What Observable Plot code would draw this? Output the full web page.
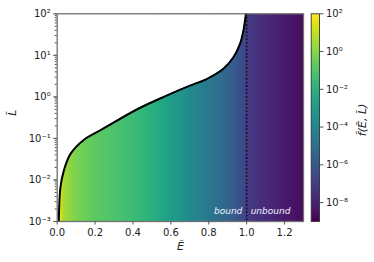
<!DOCTYPE html>
<html><head><meta charset="utf-8">
<script src="https://cdn.jsdelivr.net/npm/d3@7"></script>
<script src="https://cdn.jsdelivr.net/npm/@observablehq/plot@0.6"></script>
<style>
body{margin:0;background:white;}
#chart{position:relative;width:374px;height:262px;}
#chart svg{position:absolute;left:0;top:0;}
</style></head><body><div id="chart"></div>
<script>
// distribution function log10 f~ vs E~
const fieldE    = [0, 0.01, 0.03, 0.05, 0.1, 0.2, 0.3, 0.4, 0.5, 0.6, 0.65, 0.7, 0.8, 0.9, 0.95, 0.99, 1.0, 1.05, 1.1, 1.2, 1.3];
const fieldLogF = [2.0, 1.7, 0.7, 0.3, -0.2, -0.75, -1.1, -1.5, -2.0, -2.85, -3.3, -3.8, -4.6, -5.5, -6.1, -6.7, -7.1, -7.4, -7.7, -8.2, -8.7];
// boundary curve L~max(E~)
const curveE = [0.0085, 0.017, 0.035, 0.070, 0.14, 0.229, 0.43, 0.577, 0.70, 0.789, 0.877, 0.93, 0.965, 0.983, 0.996];
const curveL = [0.001, 0.0066, 0.0168, 0.0424, 0.092, 0.158, 0.525, 1.07, 1.86, 2.69, 4.73, 9.0, 18.9, 39.8, 100];
const boundaryE = [1.0];
const xTicks = [0, 0.2, 0.4, 0.6, 0.8, 1.0, 1.2];
const yTicks = [1e-3, 1e-2, 1e-1, 1e0, 1e1, 1e2];
const cbTickExp = [2, 0, -2, -4, -6, -8];
const xDomain = [0, 1.3];
const yDomain = [1e-3, 1e2];
const colorDomain = [-9, 2];
const labelBound = [{E: 0.977, L: 0.0018, text: "bound"}];
const labelUnbound = [{E: 1.021, L: 0.0018, text: "unbound"}];

const supMap = {"-":"⁻","0":"⁰","1":"¹","2":"²","3":"³","4":"⁴","5":"⁵","6":"⁶","7":"⁷","8":"⁸","9":"⁹"};
const supExp = k => "10" + String(k).split("").map(c => supMap[c]).join("");
const pow10 = v => supExp(Math.round(Math.log10(v)));

const field = fieldE.flatMap((E, i) => [{E, L: yDomain[0], v: fieldLogF[i]}, {E, L: yDomain[1], v: fieldLogF[i]}]);
const curve = curveE.map((E, i) => ({E, L: curveL[i]}));
const mask = [{E: 0, L: yDomain[0]}, ...curve];

const style = {fontFamily: "DejaVu Sans", fontSize: "10px", color: "#222", background: "transparent"};

const main = Plot.plot({
  width: 374, height: 262,
  marginLeft: 56.7, marginRight: 71, marginTop: 13.3, marginBottom: 41,
  style,
  x: {domain: xDomain},
  y: {type: "log", domain: yDomain},
  color: {type: "linear", domain: colorDomain, scheme: "viridis"},
  marks: [
    Plot.raster(field, {x: "E", y: "L", fill: "v", interpolate: "barycentric", x1: xDomain[0], x2: xDomain[1], y1: yDomain[0], y2: yDomain[1]}),
    Plot.areaY(mask, {x: "E", y1: "L", y2: () => yDomain[1], fill: "white", curve: "catmull-rom", clip: true}),
    Plot.line(curve, {x: "E", y: "L", stroke: "black", strokeWidth: 2, curve: "catmull-rom", clip: true}),
    Plot.ruleX(boundaryE, {stroke: "#111", strokeWidth: 1.6, strokeDasharray: "1.6,2"}),
    Plot.text(labelBound, {x: "E", y: "L", text: "text", textAnchor: "end", fill: "#f2f2fa", fontStyle: "italic", fontSize: 9}),
    Plot.text(labelUnbound, {x: "E", y: "L", text: "text", textAnchor: "start", fill: "#f2f2fa", fontStyle: "italic", fontSize: 9}),
    Plot.frame({stroke: "#707070", strokeWidth: 1.3}),
    Plot.axisX({ticks: xTicks, tickFormat: d3.format(".1f"), tickSize: 3.5, tickPadding: 4, label: null, stroke: "#555"}),
    Plot.axisY({ticks: yTicks, tickFormat: pow10, tickSize: 3.5, tickPadding: 3, label: null, stroke: "#555"}),
    Plot.axisY({ticks: 40, tickFormat: () => "", tickSize: 2, label: null, stroke: "#555"}),
    Plot.text(["Ẽ"], {text: d => d, frameAnchor: "bottom", dy: 28, fontStyle: "italic", fontSize: 11}),
    Plot.text(["L\u0303"], {text: d => d, frameAnchor: "left", dx: -45, dy: -2, rotate: -90, fontStyle: "italic", fontSize: 11})
  ]
});

const cbar = Plot.plot({
  width: 374, height: 262,
  marginLeft: 310.7, marginRight: 55, marginTop: 13.3, marginBottom: 41,
  style,
  x: {domain: [0, 1], axis: null},
  y: {domain: colorDomain, axis: null},
  color: {type: "linear", domain: colorDomain, scheme: "viridis"},
  marks: [
    Plot.raster({x1: 0, x2: 1, y1: colorDomain[0], y2: colorDomain[1], fill: (x, y) => y}),
    Plot.frame({stroke: "#333", strokeWidth: 0.9}),
    Plot.axisY({anchor: "right", ticks: cbTickExp, tickFormat: supExp, tickSize: 3.5, tickPadding: 3, label: null, stroke: "#555"}),
    Plot.text(["f\u0303(Ẽ, L\u0303)"], {text: d => d, frameAnchor: "right", dx: 43, dy: -14, rotate: -90, fontStyle: "italic", fontSize: 11})
  ]
});

const el = document.getElementById("chart");
el.appendChild(main);
el.appendChild(cbar);
</script></body></html>
